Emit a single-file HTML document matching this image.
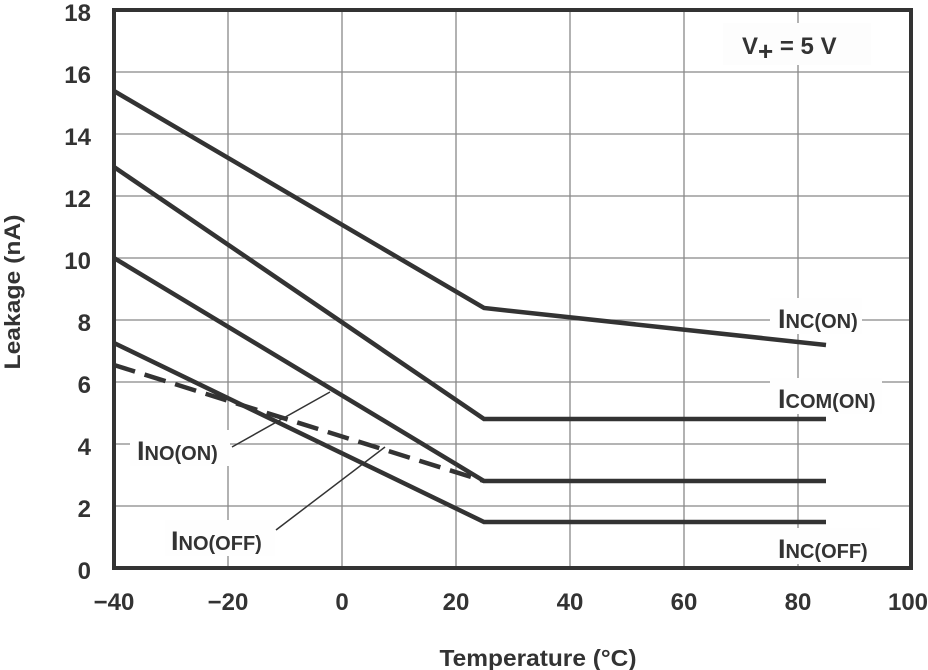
<!DOCTYPE html>
<html><head><style>body{margin:0;background:#fff}svg{display:block}text{font-family:"Liberation Sans",Arial,sans-serif;font-weight:bold;fill:#333}</style></head><body>
<svg width="928" height="670" viewBox="0 0 928 670">
<g stroke="#888" stroke-width="1.3">
<line x1="228" y1="10" x2="228" y2="568"/><line x1="342" y1="10" x2="342" y2="568"/><line x1="456" y1="10" x2="456" y2="568"/><line x1="570" y1="10" x2="570" y2="568"/><line x1="684" y1="10" x2="684" y2="568"/><line x1="798" y1="10" x2="798" y2="568"/>
<line x1="114" y1="72" x2="911" y2="72"/><line x1="114" y1="134" x2="911" y2="134"/><line x1="114" y1="196" x2="911" y2="196"/><line x1="114" y1="258" x2="911" y2="258"/><line x1="114" y1="320" x2="911" y2="320"/><line x1="114" y1="382" x2="911" y2="382"/><line x1="114" y1="444" x2="911" y2="444"/><line x1="114" y1="506" x2="911" y2="506"/>
</g>
<rect x="723" y="23" width="148" height="42" fill="#fdfdfd"/>
<g fill="#fefefe"><rect x="770" y="298" width="92" height="36"/><rect x="770" y="378" width="112" height="36"/><rect x="770" y="528" width="110" height="36"/><rect x="130" y="430" width="100" height="36"/><rect x="165" y="520" width="110" height="36"/></g>
<g fill="none" stroke="#333" stroke-width="4.5">
<polyline points="114,91 484,308 826,345"/>
<polyline points="114,167 484,419 826,419"/>
<polyline points="114,258 484,481 826,481"/>
<polyline points="114,343 484,522 826,522"/>
<polyline points="114,365 484,481" stroke-dasharray="22,10"/>
</g>
<g stroke="#333" stroke-width="1.5"><line x1="232" y1="447" x2="330" y2="392"/><line x1="276" y1="530" x2="385" y2="447"/></g>
<rect x="114" y="10" width="797" height="558" fill="none" stroke="#333" stroke-width="4"/>
<g font-size="24" text-anchor="end">
<text x="91" y="21">18</text><text x="91" y="83">16</text><text x="91" y="145">14</text><text x="91" y="207">12</text><text x="91" y="269">10</text><text x="91" y="331">8</text><text x="91" y="393">6</text><text x="91" y="455">4</text><text x="91" y="517">2</text><text x="91" y="579">0</text>
</g>
<g font-size="24" text-anchor="middle">
<text x="114" y="610">−40</text><text x="228" y="610">−20</text><text x="342" y="610">0</text><text x="456" y="610">20</text><text x="570" y="610">40</text><text x="684" y="610">60</text><text x="798" y="610">80</text><text x="908" y="610">100</text>
<text x="538" y="666" font-size="23" textLength="197" lengthAdjust="spacingAndGlyphs">Temperature (°C)</text>
</g>
<text transform="translate(20,292) rotate(-90)" font-size="22" text-anchor="middle" textLength="155" lengthAdjust="spacingAndGlyphs">Leakage (nA)</text>
<g font-size="24">
<text x="742" y="54">V<tspan font-size="26" dy="6">+</tspan><tspan dy="-6"> = 5 V</tspan></text>
<text x="778" y="328" font-size="27">I<tspan font-size="20">NC(ON)</tspan></text>
<text x="778" y="408" font-size="27">I<tspan font-size="20">COM(ON)</tspan></text>
<text x="778" y="558" font-size="27">I<tspan font-size="20">NC(OFF)</tspan></text>
<text x="137" y="460" font-size="27">I<tspan font-size="20">NO(ON)</tspan></text>
<text x="171" y="550" font-size="27">I<tspan font-size="20">NO(OFF)</tspan></text>
</g>
</svg>
</body></html>
